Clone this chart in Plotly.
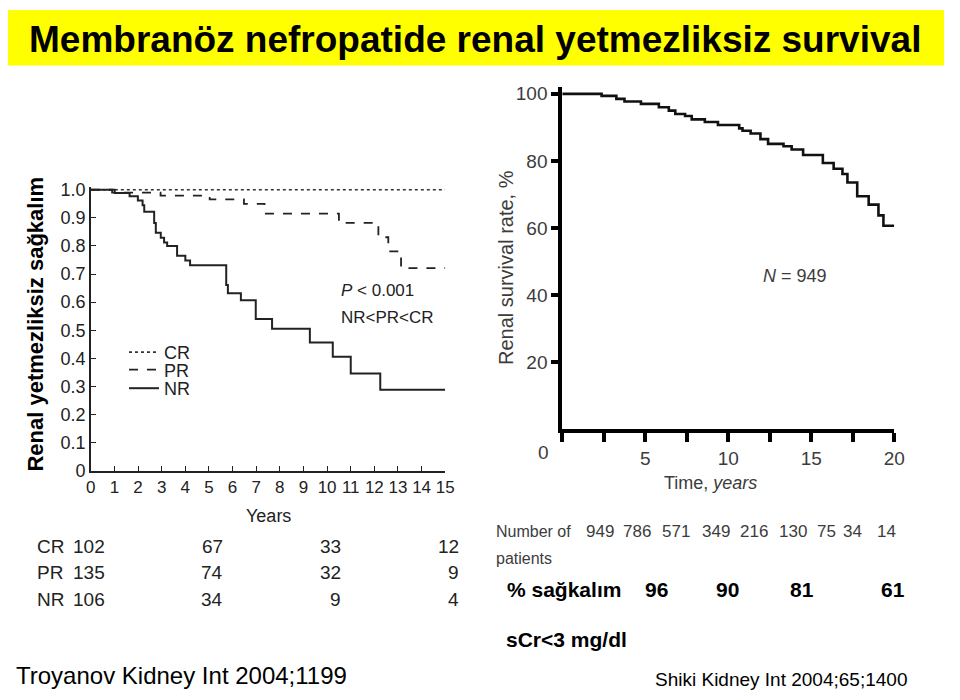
import plotly.graph_objects as go

W, H = 960, 700
def px(x): return x / W
def py(y): return 1 - y / H

# ---------------- data: left chart (Troyanov) ----------------
cr_t = [0, 15]
cr_s = [1.0, 1.0]
pr_t = [0, 0.9, 2.95, 5.03, 6.48, 7.35, 10.5, 12.17, 12.59, 13.13, 15]
pr_s = [1.0, 0.99, 0.979, 0.966, 0.95, 0.915, 0.882, 0.831, 0.781, 0.721, 0.721]
nr_t = [0, 1.01, 1.64, 1.99, 2.19, 2.26, 2.68, 2.75, 2.96, 3.1, 3.23, 3.65, 4.0,
        4.2, 5.73, 5.8, 6.35, 6.98, 7.67, 9.27, 10.24, 11.0, 12.25, 15]
nr_s = [1.0, 0.988, 0.977, 0.962, 0.945, 0.922, 0.882, 0.847, 0.829, 0.812, 0.80,
        0.765, 0.748, 0.731, 0.661, 0.632, 0.607, 0.54, 0.505, 0.456, 0.406, 0.346,
        0.288, 0.288]
risk_groups = ["CR", "PR", "NR"]
risk_years = [0, 5, 10, 15]
risk_cr = [102, 67, 33, 12]
risk_pr = [135, 74, 32, 9]
risk_nr = [106, 34, 9, 4]
left_xticks = list(range(0, 16))
left_yticks = [0, 0.1, 0.2, 0.3, 0.4, 0.5, 0.6, 0.7, 0.8, 0.9, 1.0]
left_yticktext = ["0", "0.1", "0.2", "0.3", "0.4", "0.5", "0.6", "0.7", "0.8", "0.9", "1.0"]

# ---------------- data: right chart (Shiki) ----------------
all_t = [0, 2.37, 3.26, 3.75, 4.74, 5.82, 6.42, 6.81, 7.4, 7.8, 8.59, 9.38, 10.66,
         10.86, 11.35, 11.94, 12.4, 13.33, 13.82, 14.51, 15.7, 16.35, 16.88, 17.18,
         17.77, 18.46, 19.05, 19.35, 20]
all_s = [100, 99.4, 98.5, 97.7, 97.0, 96.0, 95.0, 94.0, 93.4, 92.4, 91.6, 90.7, 89.7,
         89.0, 88.2, 86.5, 85.1, 84.4, 83.4, 81.8, 79.4, 77.7, 76.1, 73.6, 69.5, 67.0,
         63.8, 60.7, 60.7]
right_xtickvals = [0, 2.5, 5, 7.5, 10, 12.5, 15, 17.5, 20]
right_xticktext = ["", "", "5", "", "10", "", "15", "", "20"]
right_yticks = [20, 40, 60, 80, 100]
n_patients = [949, 786, 571, 349, 216, 130, 75, 34, 14]
pct_survival = [96, 90, 81, 61]

ARIAL = "Liberation Sans, Arial"
DARK = "#222222"
GRAY = "#3c3c3c"

fig = go.Figure()

fig.add_trace(go.Scatter(x=cr_t, y=cr_s, mode="lines", name="CR", line_shape="hv",
                         line=dict(color="#333333", width=1.6, dash="dot"),
                         xaxis="x", yaxis="y", legend="legend"))
fig.add_trace(go.Scatter(x=pr_t, y=pr_s, mode="lines", name="PR", line_shape="hv",
                         line=dict(color=DARK, width=1.8, dash="dash"),
                         xaxis="x", yaxis="y", legend="legend2"))
fig.add_trace(go.Scatter(x=nr_t, y=nr_s, mode="lines", name="NR", line_shape="hv",
                         line=dict(color=DARK, width=2),
                         xaxis="x", yaxis="y", legend="legend3"))
fig.add_trace(go.Scatter(x=all_t, y=all_s, mode="lines", name="All", line_shape="hv",
                         line=dict(color="#111111", width=2.6), showlegend=False,
                         xaxis="x2", yaxis="y2"))

lx0, lx1 = 87.3, 447.7
ly0, ly1 = 475.3, 187.3
yr_top = 1.01
ly_top = ly0 - (ly0 - ly1) * yr_top
rx0, rx1 = 566.7, 904.3
ry0, ry1 = 433.0, 89.0
r_top = 102
ry_top = ry0 - (ry0 - ry1) * r_top / 100

def leg(ycenter):
    return dict(x=px(121), y=py(ycenter), xanchor="left", yanchor="middle",
                font=dict(family=ARIAL, size=18, color=DARK),
                bgcolor="rgba(0,0,0,0)", itemwidth=30)

fig.update_layout(
    width=W, height=H,
    margin=dict(l=0, r=0, t=0, b=0),
    paper_bgcolor="white", plot_bgcolor="white",
    showlegend=True,
    legend=leg(354), legend2=leg(372), legend3=leg(391),
    xaxis=dict(domain=[px(lx0), px(lx1)], range=[0, 15], anchor="y",
               tickvals=left_xticks, ticks="inside", ticklen=5, tickwidth=1.2,
               tickcolor=DARK, showline=True, linecolor=DARK, linewidth=1.5,
               showgrid=False, zeroline=False,
               tickfont=dict(family=ARIAL, size=17, color=DARK)),
    yaxis=dict(domain=[py(ly0), py(ly_top)], range=[0, yr_top], anchor="x",
               tickvals=left_yticks, ticktext=left_yticktext, ticks="inside",
               ticklen=5, tickwidth=1.2, tickcolor=DARK, showline=True,
               linecolor=DARK, linewidth=1.5, showgrid=False, zeroline=False,
               tickfont=dict(family=ARIAL, size=18, color=DARK)),
    xaxis2=dict(domain=[px(rx0), px(rx1)], range=[0, 20], anchor="y2",
                tickvals=right_xtickvals, ticktext=right_xticktext, ticks="outside",
                ticklen=9, tickwidth=4, tickcolor="black", showline=True,
                linecolor="black", linewidth=4, showgrid=False, zeroline=False,
                tickfont=dict(family=ARIAL, size=19, color=GRAY)),
    yaxis2=dict(domain=[py(ry0), py(ry_top)], range=[0, r_top], anchor="x2",
                tickvals=right_yticks, ticks="outside", ticklen=7, tickwidth=4,
                tickcolor="black", showline=True, linecolor="black", linewidth=4,
                showgrid=False, zeroline=False,
                tickfont=dict(family=ARIAL, size=19, color=GRAY)),
)

shapes = [dict(type="rect", xref="paper", yref="paper", x0=px(3), x1=px(955),
               y0=py(60), y1=py(3), fillcolor="#ffff00", line=dict(width=0),
               layer="below")]
fig.update_layout(shapes=shapes)

ann = []
def A(text, x, y, size, family=ARIAL, color="black", xanchor="center", **kw):
    d = dict(text=text, x=px(x), y=py(y), xref="paper", yref="paper",
             showarrow=False, xanchor=xanchor, yanchor="middle",
             font=dict(family=family, size=size, color=color))
    d.update(kw)
    ann.append(d)

# title
A("<b>Membranöz nefropatide renal yetmezliksiz survival</b>", 478, 33, 37)
# left y title
A("<b>Renal yetmezliksiz sağkalım</b>", 31, 325, 22, textangle=-90)
# left x title
A("Years", 268, 522, 18, color=DARK)
# p-value annotation
A("<i>P</i> &lt; 0.001", 340, 291, 17, color=DARK, xanchor="left")
A("NR&lt;PR&lt;CR", 340, 318, 17, color=DARK, xanchor="left")

# number at risk left
row_y = [553, 580, 607]
for g, vals, yy in zip(risk_groups, [risk_cr, risk_pr, risk_nr], row_y):
    A(g, 30, yy, 19, color=DARK, xanchor="left")
    for yrv, v in zip(risk_years, vals):
        ann.append(dict(text=str(v), x=yrv, y=py(yy), xref="x", yref="paper",
                        showarrow=False, xanchor="right", yanchor="middle",
                        xshift=16, font=dict(family=ARIAL, size=19, color=DARK)))

# right chart texts
A("Renal survival rate, %", 509, 267, 20, color=GRAY, textangle=-90)
A("Time, <i>years</i>", 717, 488, 18, color=GRAY)
A("<i>N</i> = 949", 803, 276, 18, color=GRAY)
A("0", 548, 457, 19, color=GRAY)

A("Number of", 497, 538, 16, color=GRAY, xanchor="left")
A("patients", 497, 565, 16, color=GRAY, xanchor="left")
n_x = [605, 643, 682, 723, 762, 801, 835, 862, 896]
for v, xx in zip(n_patients, n_x):
    A(str(v), xx, 538, 17, color=GRAY)

A("<b>% sağkalım</b>", 508, 597, 21, xanchor="left")
pct_x = [663, 735, 810, 903]
for v, xx in zip(pct_survival, pct_x):
    A("<b>%d</b>" % v, xx, 597, 21)

A("<b>sCr&lt;3 mg/dl</b>", 507, 648, 21, xanchor="left")
A("Shiki Kidney Int 2004;65;1400", 659, 689, 19, xanchor="left")
A("Troyanov Kidney Int 2004;1199", 9, 685, 24, xanchor="left")

fig.update_layout(annotations=ann)
fig.write_html("out.html")
